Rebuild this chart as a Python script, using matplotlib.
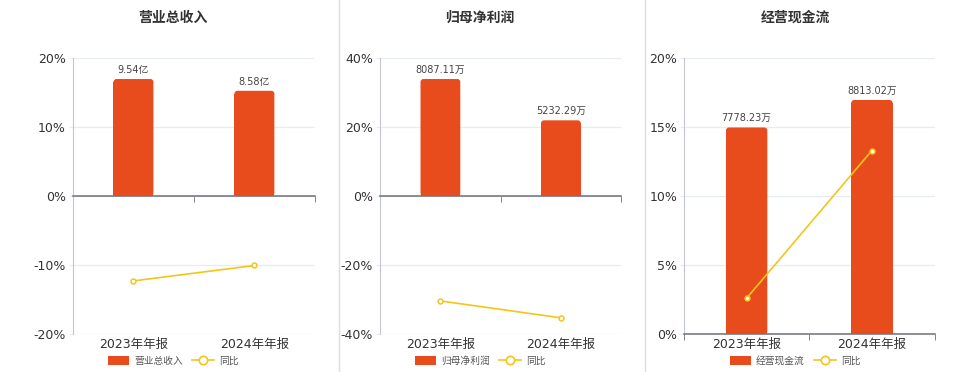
import matplotlib
matplotlib.use("Agg")
import matplotlib.pyplot as plt
from matplotlib.patches import Patch, FancyBboxPatch
from matplotlib.lines import Line2D
from matplotlib.ticker import FixedLocator, FuncFormatter

plt.rcParams['font.family'] = ['DejaVu Sans', 'Noto Sans CJK SC']

# data
categories = ["2023年年报", "2024年年报"]
titles = ["营业总收入", "归母净利润", "经营现金流"]

rev_values = [9.54, 8.58]
rev_labels = ["9.54亿", "8.58亿"]
rev_yoy = [-12.3, -10.06]

profit_values = [8087.11, 5232.29]
profit_labels = ["8087.11万", "5232.29万"]
profit_yoy = [-30.4, -35.3]

cash_values = [7778.23, 8813.02]
cash_labels = ["7778.23万", "8813.02万"]
cash_yoy = [2.6, 13.30]

rev_ticks = [-20, -10, 0, 10, 20]
profit_ticks = [-40, -20, 0, 20, 40]
cash_ticks = [0, 5, 10, 15, 20]

BAR_COLOR = "#e84c1c"
LINE_COLOR = "#f5c518"
GRID_COLOR = "#e6ebf5"
TEXT_COLOR = "#333333"

W, H = 960, 372
fig = plt.figure(figsize=(W / 100, H / 100), dpi=100)

# axes boxes in figure fractions, title / legend centre x
panels = [
    (titles[0], rev_values, rev_labels, rev_yoy, rev_ticks, [0.076, 0.102, 0.252, 0.742], 173),
    (titles[1], profit_values, profit_labels, profit_yoy, profit_ticks, [0.396, 0.102, 0.251, 0.742], 480),
    (titles[2], cash_values, cash_labels, cash_yoy, cash_ticks, [0.7125, 0.102, 0.261, 0.742], 795),
]

x = list(range(len(categories)))

for title, vals, labels, yoy, ticks, box, cx in panels:
    ax = fig.add_axes(box)
    ax.set_xlim(-0.5, len(categories) - 0.5)
    ax.set_ylim(ticks[0], ticks[-1])
    ax.yaxis.set_major_locator(FixedLocator(ticks))
    ax.yaxis.set_major_formatter(FuncFormatter(lambda v, p: "%d%%" % v))
    ax.grid(axis="y", color=GRID_COLOR, linewidth=0.9)
    ax.set_axisbelow(True)
    ax.tick_params(axis="y", length=3, color=GRID_COLOR, labelsize=9, labelcolor=TEXT_COLOR, pad=2)
    for s in ["top", "right"]:
        ax.spines[s].set_visible(False)
    ax.spines["left"].set_color("#c3c6cc")
    ax.spines["bottom"].set_position(("data", 0))
    ax.spines["bottom"].set_color("#6e7079")
    ax.spines["bottom"].set_linewidth(1.1)
    ax.set_xticks(x)
    ax.set_xticks([-0.5, 0.5, len(categories) - 0.5], minor=True)
    ax.tick_params(axis="x", which="major", length=0, labelbottom=False)
    ax.tick_params(axis="x", which="minor", length=4, color="#6e7079")

    # bars on their own scale
    axb = ax.twinx()
    axb.set_xlim(-0.5, len(categories) - 0.5)
    top = max(vals) / 0.848
    if ticks[0] < 0:
        axb.set_ylim(-top, top)
    else:
        axb.set_ylim(0, top)
    axb.set_yticks([])
    for s in axb.spines.values():
        s.set_visible(False)

    # data units per pixel, for round corners of ~3 px
    xpp = (len(categories)) / (box[2] * W)
    ypp = (axb.get_ylim()[1] - axb.get_ylim()[0]) / (box[3] * H)
    r = 3 * xpp
    bars = axb.bar(x, vals, width=0.33, color=BAR_COLOR, zorder=2)
    for b, lab in zip(bars, labels):
        h = b.get_height()
        x0, y0 = b.get_xy()
        axb.add_patch(FancyBboxPatch((x0, y0), b.get_width(), h,
                                     boxstyle="round,pad=0,rounding_size=%f" % r,
                                     mutation_aspect=ypp / xpp,
                                     facecolor=BAR_COLOR, edgecolor="none", zorder=2))
        b.set_height(h - 3 * ypp)
        axb.annotate(lab, (x0 + b.get_width() / 2, h),
                     xytext=(0, 3), textcoords="offset points",
                     ha="center", va="bottom", fontsize=7, color="#444444")
    # category labels at the bottom of the axes
    axb.xaxis.set_visible(True)
    axb.tick_params(axis="x", which="both", length=0, labelbottom=True,
                    labelsize=9, labelcolor=TEXT_COLOR, pad=3)
    axb.set_xticklabels(categories)

    # yoy line on the percent scale, drawn above the bars
    axb.plot(x, yoy, transform=ax.transData, color=LINE_COLOR, linewidth=1.2,
             marker="o", markersize=3.5, markerfacecolor="white",
             markeredgecolor=LINE_COLOR, markeredgewidth=1.1, zorder=3)

    fig.text(cx / W, 1 - 18 / H, title, ha="center", va="center",
             fontsize=10, fontweight="bold", color=TEXT_COLOR)

    handles = [
        Patch(facecolor=BAR_COLOR, edgecolor="none"),
        Line2D([0], [0], color=LINE_COLOR, linewidth=1.2, marker="o", markersize=6,
               markerfacecolor="white", markeredgecolor=LINE_COLOR, markeredgewidth=1.2),
    ]
    fig.legend(handles, [title, "同比"], loc="center", ncol=2,
               bbox_to_anchor=(cx / W, 1 - 361 / H), frameon=False,
               fontsize=7, handlelength=2.2, handleheight=1.0, handletextpad=0.5,
               columnspacing=1.0, borderpad=0, labelcolor="#555555")

# panel separators
for sx in [339, 645]:
    fig.add_artist(Line2D([sx / W, sx / W], [0, 1], color="#dddddd", linewidth=1.0))

fig.savefig("out.png", dpi=100)
